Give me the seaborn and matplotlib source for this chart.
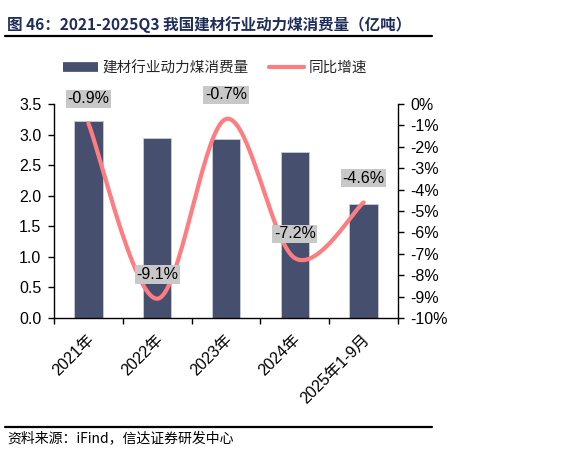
import numpy as np
import pandas as pd
import matplotlib
matplotlib.use("Agg")
import matplotlib.pyplot as plt
import matplotlib.transforms as mtransforms
import seaborn as sns
from matplotlib.lines import Line2D
from matplotlib.ticker import FixedLocator, FuncFormatter

categories = ["2021年", "2022年", "2023年", "2024年", "2025年1-9月"]
consumption = [3.23, 2.94, 2.92, 2.71, 1.87]
growth = [-0.9, -9.1, -0.7, -7.2, -4.6]
growth_labels = ["-0.9%", "-9.1%", "-0.7%", "-7.2%", "-4.6%"]
left_ticks = [0.0, 0.5, 1.0, 1.5, 2.0, 2.5, 3.0, 3.5]
right_ticks = [0, -1, -2, -3, -4, -5, -6, -7, -8, -9, -10]

sns.set_theme(style="white")
plt.rcParams['font.family'] = ['Liberation Sans', 'Noto Sans CJK SC', 'DejaVu Sans']
plt.rcParams['axes.unicode_minus'] = False

BAR = "#464F6E"
LINE = "#FF7C80"
TS = 11.5

fig = plt.figure(figsize=(5.8, 4.51), dpi=100)
ax = fig.add_axes([54/580, 1-318/451, (398-54)/580, (318-104)/451])

df = pd.DataFrame({"cat": categories, "val": consumption})
sns.barplot(data=df, x="cat", y="val", color=BAR, width=0.41, ax=ax,
            edgecolor="#C9CDD6", linewidth=0.6, saturation=1)
ax.set_xlim(-0.5, 4.5)
ax.set_ylim(0, 3.5)
ax.set_yticks(left_ticks)
ax.yaxis.set_major_formatter(FuncFormatter(lambda v, p: f"{v:.1f}"))
ax.set_xlabel("")
ax.set_ylabel("")
ax.tick_params(axis='y', which='major', left=True, length=4, width=1, color='black',
               labelsize=TS, labelcolor='black', direction='out', pad=5)
ax.set_xticks(range(len(categories)))
ax.set_xticklabels(categories, rotation=45, ha='right', rotation_mode='anchor',
                   fontsize=11.5, color='black')
ax.tick_params(axis='x', which='major', length=0, pad=10)
shift = mtransforms.ScaledTranslation(-2/100, 0, fig.dpi_scale_trans)
for lab in ax.get_xticklabels():
    lab.set_transform(lab.get_transform() + shift)
ax.xaxis.set_minor_locator(FixedLocator([-0.5, 0.5, 1.5, 2.5, 3.5, 4.5]))
ax.tick_params(axis='x', which='minor', bottom=True, length=4, width=1, color='black', direction='out')
for s in ['top', 'right']:
    ax.spines[s].set_visible(False)
for s in ['left', 'bottom']:
    ax.spines[s].set_color('black')
    ax.spines[s].set_linewidth(1)
ax.grid(False)

ax2 = ax.twinx()
ax2.set_ylim(-10, 0)
ax2.set_yticks(right_ticks)
ax2.yaxis.set_major_formatter(FuncFormatter(lambda v, p: f"{int(round(v))}%"))
ax2.tick_params(axis='y', right=True, length=4, width=1, color='black',
                labelsize=TS, labelcolor='black', direction='out', pad=5)
for s in ['top', 'left', 'bottom']:
    ax2.spines[s].set_visible(False)
ax2.spines['right'].set_color('black')
ax2.spines['right'].set_linewidth(1)
ax2.grid(False)

# Excel-like smooth line (Bezier with Catmull-Rom control points)
xs = np.arange(len(growth), dtype=float)
ys = np.array(growth, dtype=float)
px, py = [], []
t = np.linspace(0, 1, 40)
n = len(xs)
for i in range(n - 1):
    p0 = np.array([xs[i], ys[i]])
    p3 = np.array([xs[i+1], ys[i+1]])
    prev = np.array([xs[i-1], ys[i-1]]) if i > 0 else p0
    nxt = np.array([xs[i+2], ys[i+2]]) if i + 2 < n else p3
    c1 = p0 + (p3 - prev) / 6
    c2 = p3 - (nxt - p0) / 6
    b = ((1-t)**3)[:, None]*p0 + (3*(1-t)**2*t)[:, None]*c1 + (3*(1-t)*t**2)[:, None]*c2 + (t**3)[:, None]*p3
    px.extend(b[:, 0]); py.extend(b[:, 1])
sns.lineplot(x=px, y=py, sort=False, color=LINE, linewidth=3, ax=ax2, solid_capstyle='round')

for i, (g, lab) in enumerate(zip(growth, growth_labels)):
    ax2.annotate(lab, (i, g), xytext=(0, 17.5), textcoords='offset points',
                 ha='center', va='center', fontsize=TS, color='black',
                 bbox=dict(boxstyle='square,pad=0.1', facecolor='#C8C8C8', edgecolor='none'))

# Legend
handles = [Line2D([0], [0], color=BAR, lw=7, solid_capstyle='butt'),
           Line2D([0], [0], color=LINE, lw=3)]
fig.legend(handles, ["建材行业动力煤消费量", "同比增速"], loc='center',
           bbox_to_anchor=(0.371, 1-68/451), ncol=2, frameon=False,
           handlelength=2.4, columnspacing=1.35, handletextpad=0.35,
           prop={'family': ['Liberation Sans', 'Noto Sans CJK SC'], 'size': 10.5})

# Title and rules
fig.text(7/580, 1-25/451, "图 46：2021-2025Q3 我国建材行业动力煤消费量（亿吨）",
         fontsize=11.2, color='#1F2D5A', fontweight='bold', va='center', ha='left',
         family=['Noto Sans CJK SC', 'DejaVu Sans'])
fig.add_artist(Line2D([5/580, 432/580], [1-36/451, 1-36/451], color='black', lw=1.6))
fig.add_artist(Line2D([5/580, 432/580], [1-427/451, 1-427/451], color='black', lw=1.6))
fig.text(7/580, 1-438/451, "资料来源：iFind，信达证券研发中心", fontsize=10, color='black',
         va='center', ha='left', style='italic', family=['Noto Sans CJK SC', 'DejaVu Sans'])

fig.savefig("out.png", dpi=100)
